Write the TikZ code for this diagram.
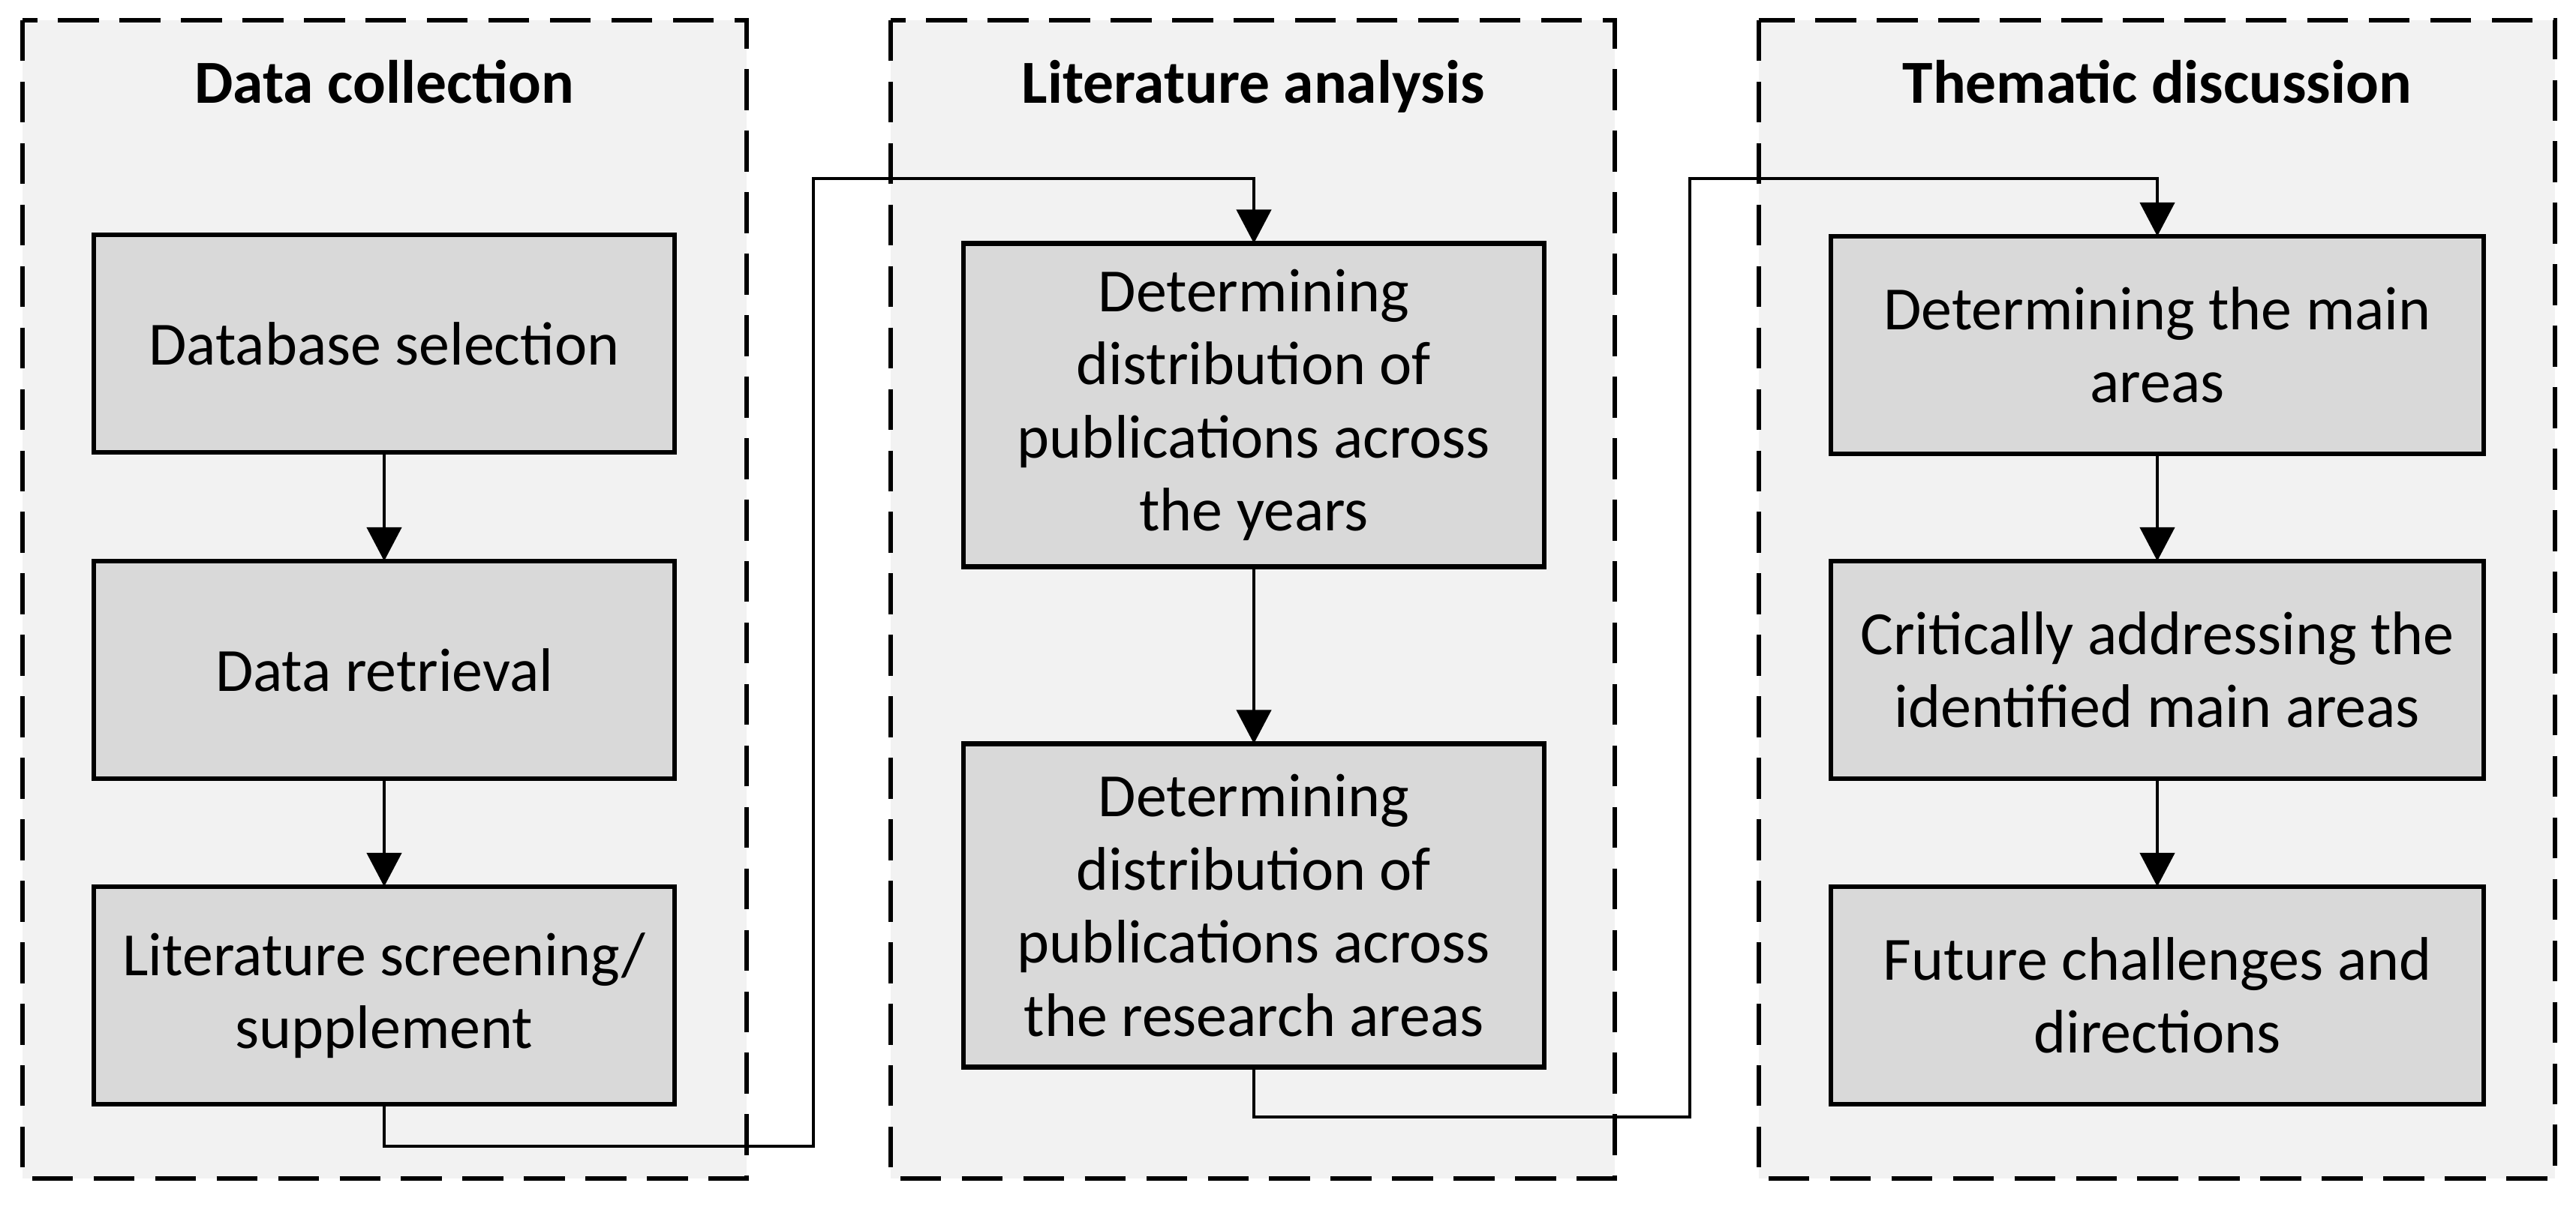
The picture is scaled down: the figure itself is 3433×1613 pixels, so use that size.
\documentclass[tikz,border=0pt]{standalone}
\usepackage{fontspec}
\setmainfont{Carlito}
\usetikzlibrary{arrows.meta}
\definecolor{panelfill}{RGB}{242,242,242}
\definecolor{boxfill}{RGB}{217,217,217}
\tikzset{
  panel/.style={draw=black, fill=panelfill, line width=1.6pt, dash pattern=on 15.5pt off 7.8pt},
  stepbox/.style={draw=black, fill=boxfill, line width=1.8pt, rectangle, inner sep=0pt, outer sep=0pt,
     align=center, font=\fontsize{23.3}{27.7}\selectfont},
  title/.style={anchor=base, font=\fontsize{23.2}{27}\selectfont\bfseries},
  conn/.style={draw=black, line width=1.3pt, -{Triangle[width=0.46cm,length=0.45cm]}}
}
\begin{document}
\begin{tikzpicture}[x=0.01cm,y=-0.01cm]
\useasboundingbox (0,0) rectangle (3433,1613);
% panels
\draw[panel] (30,27) rectangle (995,1571);
\draw[panel] (1187,27) rectangle (2152,1571);
\draw[panel] (2344,27) rectangle (3405,1571);
\node[title] (t1) at (512,138) {Data collection};
\node[title] (t2) at (1670,138) {Literature analysis};
\node[title] (t3) at (2875,138) {Thematic discussion};
% boxes
\node[stepbox, minimum width=7.74cm, minimum height=2.9cm] (dc1) at (512,458) {Database selection};
\node[stepbox, minimum width=7.74cm, minimum height=2.9cm] (dc2) at (512,893) {Data retrieval};
\node[stepbox, minimum width=7.74cm, minimum height=2.9cm] (dc3) at (512,1327) {Literature screening/\\supplement};
\node[stepbox, minimum width=7.74cm, minimum height=4.31cm] (la1) at (1671,540) {Determining\\distribution of\\publications across\\the years};
\node[stepbox, minimum width=7.74cm, minimum height=4.31cm] (la2) at (1671,1207) {Determining\\distribution of\\publications across\\the research areas};
\node[stepbox, minimum width=8.69cm, minimum height=2.9cm] (td1) at (2875,460) {Determining the main\\areas};
\node[stepbox, minimum width=8.69cm, minimum height=2.9cm] (td2) at (2875,893) {Critically addressing the\\identified main areas};
\node[stepbox, minimum width=8.69cm, minimum height=2.9cm] (td3) at (2875,1327) {Future challenges and\\directions};
% connectors
\draw[conn] (dc1) -- (dc2);
\draw[conn] (dc2) -- (dc3);
\draw[conn] (la1) -- (la2);
\draw[conn] (td1) -- (td2);
\draw[conn] (td2) -- (td3);
\coordinate (a1) at (512,1528);
\coordinate (a2) at (1084,238);
\coordinate (b1) at (1671,1489);
\coordinate (b2) at (2252,238);
\draw[conn] (dc3.south) -- (a1) -| (a2) -| (la1.north);
\draw[conn] (la2.south) -- (b1) -| (b2) -| (td1.north);
\end{tikzpicture}
\end{document}
